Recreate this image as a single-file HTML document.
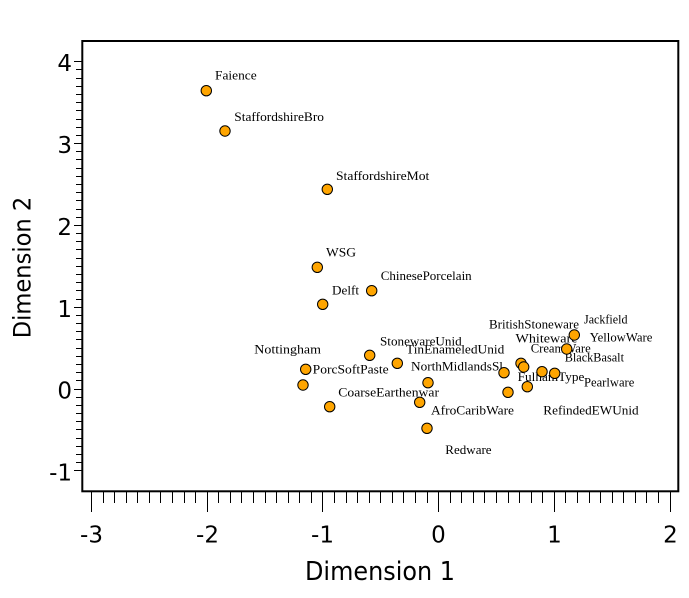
<!DOCTYPE html>
<html>
<head>
<meta charset="utf-8">
<style>
html,body{margin:0;padding:0;background:#fff;}
svg{display:block;}
.lab{font-family:"Liberation Serif",serif;font-size:13px;fill:#000;}
.tk{font-family:"DejaVu Sans","Liberation Sans",sans-serif;font-size:23px;fill:#000;}
.ttl{font-family:"DejaVu Sans","Liberation Sans",sans-serif;fill:#000;}
</style>
</head>
<body>
<svg width="689" height="598" viewBox="0 0 689 598" xmlns="http://www.w3.org/2000/svg">
<rect x="0" y="0" width="689" height="598" fill="#fff"/>
<!-- plot box -->
<rect x="82.3" y="41" width="596" height="450.3" fill="none" stroke="#000" stroke-width="2"/>

<!-- y ticks -->
<path stroke="#000" stroke-width="1" fill="none" d="
M74 470.5H82 M76 462.5H82 M76 454.5H82 M76 446.5H82 M76 438.5H82 M76 429.5H82 M76 421.5H82 M76 413.5H82 M76 405.5H82 M76 397.5H82
M74 389.5H82 M76 380.5H82 M76 372.5H82 M76 364.5H82 M76 356.5H82 M76 348.5H82 M76 339.5H82 M76 331.5H82 M76 323.5H82 M76 315.5H82
M74 307.5H82 M76 299.5H82 M76 290.5H82 M76 282.5H82 M76 274.5H82 M76 266.5H82 M76 258.5H82 M76 249.5H82 M76 241.5H82 M76 233.5H82
M74 225.5H82 M76 217.5H82 M76 209.5H82 M76 200.5H82 M76 192.5H82 M76 184.5H82 M76 176.5H82 M76 168.5H82 M76 159.5H82 M76 151.5H82
M74 143.5H82 M76 135.5H82 M76 127.5H82 M76 119.5H82 M76 110.5H82 M76 102.5H82 M76 94.5H82 M76 86.5H82 M76 78.5H82 M76 69.5H82
M74 61.5H82"/>

<!-- x ticks -->
<path stroke="#000" stroke-width="1" fill="none" d="
M91.5 491V512 M103.5 491V503 M114.5 491V503 M126.5 491V503 M137.5 491V503 M149.5 491V503 M160.5 491V503 M172.5 491V503 M184.5 491V503 M195.5 491V503
M207.5 491V512 M218.5 491V503 M230.5 491V503 M241.5 491V503 M253.5 491V503 M265.5 491V503 M276.5 491V503 M288.5 491V503 M299.5 491V503 M311.5 491V503
M322.5 491V512 M334.5 491V503 M346.5 491V503 M357.5 491V503 M369.5 491V503 M380.5 491V503 M392.5 491V503 M403.5 491V503 M415.5 491V503 M427.5 491V503
M438.5 491V512 M450.5 491V503 M461.5 491V503 M473.5 491V503 M484.5 491V503 M496.5 491V503 M508.5 491V503 M519.5 491V503 M531.5 491V503 M542.5 491V503
M554.5 491V512 M565.5 491V503 M577.5 491V503 M589.5 491V503 M600.5 491V503 M612.5 491V503 M623.5 491V503 M635.5 491V503 M646.5 491V503 M658.5 491V503
M670.5 491V512"/>

<!-- y tick labels -->
<text class="tk" x="72" y="71" text-anchor="end">4</text>
<text class="tk" x="72" y="153" text-anchor="end">3</text>
<text class="tk" x="72" y="235" text-anchor="end">2</text>
<text class="tk" x="72" y="317" text-anchor="end">1</text>
<text class="tk" x="72" y="398.5" text-anchor="end">0</text>
<text class="tk" x="72" y="480.5" text-anchor="end">-1</text>

<!-- x tick labels -->
<text class="tk" x="91.5" y="542.5" text-anchor="middle">-3</text>
<text class="tk" x="207.5" y="542.5" text-anchor="middle">-2</text>
<text class="tk" x="322.5" y="542.5" text-anchor="middle">-1</text>
<text class="tk" x="438.5" y="542.5" text-anchor="middle">0</text>
<text class="tk" x="554.5" y="542.5" text-anchor="middle">1</text>
<text class="tk" x="670.5" y="542.5" text-anchor="middle">2</text>

<!-- axis titles -->
<text class="ttl" x="305" y="580" font-size="26" textLength="150" lengthAdjust="spacingAndGlyphs">Dimension 1</text>
<text class="ttl" transform="translate(30.7,338.3) rotate(-90)" x="0" y="0" font-size="24" textLength="141.6" lengthAdjust="spacingAndGlyphs">Dimension 2</text>

<!-- point labels -->
<text class="lab" x="215" y="79.3" textLength="41.7" lengthAdjust="spacingAndGlyphs">Faience</text>
<text class="lab" x="234.3" y="121" textLength="89.7" lengthAdjust="spacingAndGlyphs">StaffordshireBro</text>
<text class="lab" x="336" y="180" textLength="93.3" lengthAdjust="spacingAndGlyphs">StaffordshireMot</text>
<text class="lab" x="326" y="256.7" textLength="30" lengthAdjust="spacingAndGlyphs">WSG</text>
<text class="lab" x="380.7" y="280" textLength="91" lengthAdjust="spacingAndGlyphs">ChinesePorcelain</text>
<text class="lab" x="332" y="294.3" textLength="27" lengthAdjust="spacingAndGlyphs">Delft</text>
<text class="lab" x="380" y="345.3" textLength="81.7" lengthAdjust="spacingAndGlyphs">StonewareUnid</text>
<text class="lab" x="406" y="353.3" textLength="98.3" lengthAdjust="spacingAndGlyphs">TinEnameledUnid</text>
<text class="lab" x="254.3" y="353.3" textLength="66.7" lengthAdjust="spacingAndGlyphs">Nottingham</text>
<text class="lab" x="312.7" y="373.3" textLength="76" lengthAdjust="spacingAndGlyphs">PorcSoftPaste</text>
<text class="lab" x="338.3" y="396.7" textLength="100.7" lengthAdjust="spacingAndGlyphs">CoarseEarthenwar</text>
<text class="lab" x="411" y="370.7" textLength="92" lengthAdjust="spacingAndGlyphs">NorthMidlandsSl</text>
<text class="lab" x="431" y="414.5" textLength="83" lengthAdjust="spacingAndGlyphs">AfroCaribWare</text>
<text class="lab" x="445.3" y="454" textLength="46.3" lengthAdjust="spacingAndGlyphs">Redware</text>
<text class="lab" x="543.3" y="414.5" textLength="95.3" lengthAdjust="spacingAndGlyphs">RefindedEWUnid</text>
<text class="lab" x="489" y="328.3" textLength="90" lengthAdjust="spacingAndGlyphs">BritishStoneware</text>
<text class="lab" x="584" y="323.3" textLength="43.5" lengthAdjust="spacingAndGlyphs">Jackfield</text>
<text class="lab" x="589.7" y="341.7" textLength="62.7" lengthAdjust="spacingAndGlyphs">YellowWare</text>
<text class="lab" x="515.5" y="342.7" textLength="62" lengthAdjust="spacingAndGlyphs">Whiteware</text>
<text class="lab" x="530.7" y="352.3" textLength="60" lengthAdjust="spacingAndGlyphs">CreamWare</text>
<text class="lab" x="564.7" y="361.7" textLength="59.3" lengthAdjust="spacingAndGlyphs">BlackBasalt</text>
<text class="lab" x="517.7" y="381" textLength="66.7" lengthAdjust="spacingAndGlyphs">FulhamType</text>
<text class="lab" x="584" y="386.7" textLength="50.3" lengthAdjust="spacingAndGlyphs">Pearlware</text>

<!-- points -->
<g fill="#FFA500" stroke="#000" stroke-width="1">
<circle cx="206.3" cy="90.7" r="5.2"/>
<circle cx="225" cy="131" r="5.2"/>
<circle cx="327.3" cy="189.3" r="5.2"/>
<circle cx="317.3" cy="267.3" r="5.2"/>
<circle cx="371.7" cy="290.7" r="5.2"/>
<circle cx="322.7" cy="304.3" r="5.2"/>
<circle cx="369.7" cy="355.3" r="5.2"/>
<circle cx="397.3" cy="363.3" r="5.2"/>
<circle cx="305.7" cy="369.3" r="5.2"/>
<circle cx="303" cy="385" r="5.2"/>
<circle cx="329.7" cy="406.7" r="5.2"/>
<circle cx="428" cy="382.7" r="5.2"/>
<circle cx="419.7" cy="402.3" r="5.2"/>
<circle cx="427" cy="428.3" r="5.2"/>
<circle cx="574.3" cy="335" r="5.2"/>
<circle cx="566.7" cy="349" r="5.2"/>
<circle cx="521" cy="363.3" r="5.2"/>
<circle cx="523.7" cy="367" r="5.2"/>
<circle cx="504" cy="372.7" r="5.2"/>
<circle cx="542" cy="371.7" r="5.2"/>
<circle cx="554.7" cy="373.3" r="5.2"/>
<circle cx="508" cy="392.3" r="5.2"/>
<circle cx="527.3" cy="386.7" r="5.2"/>
</g>
</svg>
</body>
</html>
